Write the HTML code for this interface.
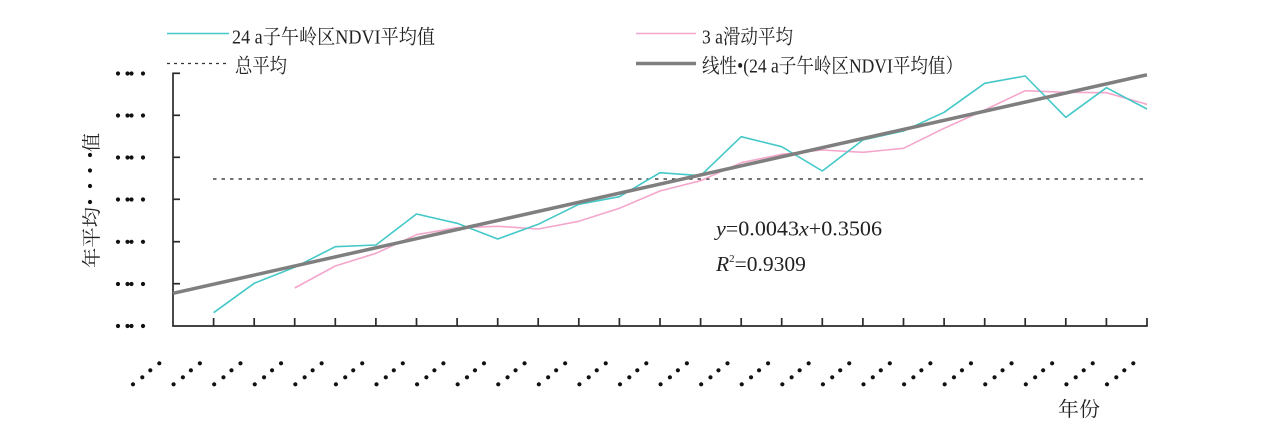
<!DOCTYPE html>
<html>
<head>
<meta charset="utf-8">
<style>
  html, body { margin:0; padding:0; background:#fff; }
  svg { display:block; }
  text { font-family: "Liberation Serif", "Noto Serif CJK SC", serif; fill:#222; }
</style>
</head>
<body>
<svg width="1267" height="427" viewBox="0 0 1267 427" xmlns="http://www.w3.org/2000/svg">
  <!-- Legend -->
  <line x1="167" y1="33.5" x2="229" y2="33.5" stroke="#45c8c8" stroke-width="1.6"/>
  <text x="232" y="43.5" font-size="20" textLength="203" lengthAdjust="spacingAndGlyphs">24 a子午岭区NDVI平均值</text>
  <line x1="167" y1="63.5" x2="227" y2="63.5" stroke="#333" stroke-width="1.3" stroke-dasharray="3 4"/>
  <text x="235" y="72.5" font-size="20" textLength="52" lengthAdjust="spacingAndGlyphs">总平均</text>

  <line x1="636" y1="33.5" x2="696" y2="33.5" stroke="#f4a6cc" stroke-width="1.6"/>
  <text x="702" y="43.5" font-size="20" textLength="91" lengthAdjust="spacingAndGlyphs">3 a滑动平均</text>
  <line x1="636" y1="63.5" x2="696" y2="63.5" stroke="#7f7f7f" stroke-width="3.5"/>
  <text x="702" y="72.5" font-size="20" textLength="261" lengthAdjust="spacingAndGlyphs">线性•(24 a子午岭区NDVI平均值）</text>

  <!-- Average dotted line -->
  <line x1="213" y1="179" x2="1147" y2="179" stroke="#222" stroke-width="1.3" stroke-dasharray="3.5 5"/>

  <!-- Axes -->
  <g stroke="#2a2a2a" stroke-width="1.7" fill="none">
    <line x1="173" y1="72.5" x2="173" y2="326.5"/>
    <line x1="172.2" y1="326" x2="1147.8" y2="326"/>
    <line x1="173" y1="73.3" x2="180" y2="73.3"/>
    <line x1="173" y1="115.3" x2="180" y2="115.3"/>
    <line x1="173" y1="157.3" x2="180" y2="157.3"/>
    <line x1="173" y1="199.3" x2="180" y2="199.3"/>
    <line x1="173" y1="241.7" x2="180" y2="241.7"/>
    <line x1="173" y1="283.7" x2="180" y2="283.7"/>
    <path d="M213.6 326V318 M254.2 326V318 M294.7 326V318 M335.3 326V318 M375.9 326V318 M416.5 326V318 M457.1 326V318 M497.7 326V318 M538.2 326V318 M578.8 326V318 M619.4 326V318 M660 326V318 M700.6 326V318 M741.2 326V318 M781.7 326V318 M822.3 326V318 M862.9 326V318 M903.5 326V318 M944.1 326V318 M984.7 326V318 M1025.2 326V318 M1065.8 326V318 M1106.4 326V318 M1147 326V318"/>
  </g>

  <!-- Y tick labels (dots) -->
  <g fill="#111">
    <g id="yd">
      <circle cx="118" cy="73.5" r="2.1"/><circle cx="127.5" cy="73.5" r="2.1"/><circle cx="131.5" cy="73.5" r="2.1"/><circle cx="143" cy="73.5" r="2.1"/>
    </g>
    <use href="#yd" y="42"/>
    <use href="#yd" y="84"/>
    <use href="#yd" y="126"/>
    <use href="#yd" y="168.3"/>
    <use href="#yd" y="210.5"/>
    <use href="#yd" y="252.5"/>
  </g>

  <!-- X tick labels (diagonal dots) -->
  <g fill="#111">
    <g id="xd">
      <circle cx="133" cy="384.3" r="2.1"/><circle cx="142.3" cy="377.3" r="2.1"/><circle cx="150.3" cy="370.3" r="2.1"/><circle cx="159.3" cy="363.3" r="2.1"/>
    </g>
    <use href="#xd" x="40.583"/><use href="#xd" x="81.167"/><use href="#xd" x="121.75"/><use href="#xd" x="162.33"/>
    <use href="#xd" x="202.92"/><use href="#xd" x="243.5"/><use href="#xd" x="284.08"/><use href="#xd" x="324.67"/>
    <use href="#xd" x="365.25"/><use href="#xd" x="405.83"/><use href="#xd" x="446.42"/><use href="#xd" x="487"/>
    <use href="#xd" x="527.58"/><use href="#xd" x="568.17"/><use href="#xd" x="608.75"/><use href="#xd" x="649.33"/>
    <use href="#xd" x="689.92"/><use href="#xd" x="730.5"/><use href="#xd" x="771.08"/><use href="#xd" x="811.67"/>
    <use href="#xd" x="852.25"/><use href="#xd" x="892.83"/><use href="#xd" x="933.42"/><use href="#xd" x="974"/>
  </g>

  <!-- Y axis title -->
  <text transform="translate(98,268) rotate(-90)" font-size="19" textLength="61" lengthAdjust="spacingAndGlyphs">年平均</text>
  <g fill="#111">
    <circle cx="90" cy="202" r="2.1"/><circle cx="90" cy="186" r="2.1"/><circle cx="90" cy="170.5" r="2.1"/><circle cx="90" cy="155" r="2.1"/>
  </g>
  <text transform="translate(98,152) rotate(-90)" font-size="19">值</text>

  <!-- X axis title -->
  <text x="1058" y="416" font-size="20" textLength="42" lengthAdjust="spacingAndGlyphs">年份</text>

  <!-- Series: 3a moving average -->
  <polyline fill="none" stroke="#f4a6cc" stroke-width="1.6" stroke-linejoin="round"
    points="294.7,288 335.3,266 375.9,253.3 416.5,234.7 457.1,227.7 497.7,226.3 538.2,229 578.8,221.3 619.4,208.3 660,191 700.6,180.7 741.2,162.7 781.7,154.3 822.3,150 862.9,152.3 903.5,148.3 944.1,128.3 984.7,110 1025.2,90.7 1065.8,92.3 1106.4,92.7 1147,104.3"/>

  <!-- Series: NDVI -->
  <polyline fill="none" stroke="#45c8c8" stroke-width="1.6" stroke-linejoin="round"
    points="213.6,312.7 254.2,283.3 294.7,267.3 335.3,246.7 375.9,245 416.5,214 457.1,223.3 497.7,239 538.2,224.3 578.8,204.3 619.4,196.7 660,172.7 700.6,175.7 741.2,136.7 781.7,146.7 822.3,171 862.9,140 903.5,131 944.1,112.3 984.7,83.3 1025.2,76 1065.8,117.3 1106.4,87.7 1147,109"/>

  <!-- Trend line -->
  <line x1="173" y1="293.3" x2="1147" y2="74.8" stroke="#7f7f7f" stroke-width="3.5" stroke-linecap="butt"/>

  <!-- Equation -->
  <text x="716" y="235.5" font-size="21" textLength="166" lengthAdjust="spacingAndGlyphs"><tspan font-style="italic">y</tspan>=0.0043<tspan font-style="italic">x</tspan>+0.3506</text>
  <text x="716" y="271" font-size="21.5"><tspan font-style="italic">R</tspan><tspan font-size="11" dy="-9">2</tspan><tspan dy="9">=0.9309</tspan></text>
</svg>
</body>
</html>
